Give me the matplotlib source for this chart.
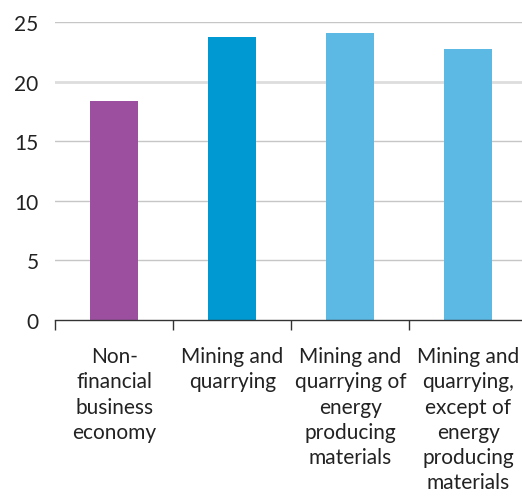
import matplotlib
matplotlib.use("Agg")
import matplotlib.pyplot as plt
import numpy as np

categories = [
    "Non-\nfinancial\nbusiness\neconomy",
    "Mining and\nquarrying",
    "Mining and\nquarrying of\nenergy\nproducing\nmaterials",
    "Mining and\nquarrying,\nexcept of\nenergy\nproducing\nmaterials",
]
values = [18.4, 23.8, 24.1, 22.8]
colors = ["#9b4f9e", "#0199d2", "#5bb9e3", "#5bb9e3"]
yticks = [0, 5, 10, 15, 20, 25]

plt.rcParams["font.family"] = ["Lato", "DejaVu Sans"]

fig = plt.figure(figsize=(5.22, 5.02), dpi=100)
W, H = 522.0, 502.0
x0, x1 = 55.3, 527.3
y0, y1 = 320.7, 23.4
ax = fig.add_axes([x0 / W, 1 - y0 / H, (x1 - x0) / W, (y0 - y1) / H])

x = np.arange(len(values))
ax.bar(x, values, width=0.41, color=colors, zorder=3)

ax.set_xlim(-0.5, 3.5)
ax.set_ylim(0, 25)

for t in yticks[1:]:
    lw, c = (2.0, "#dddddd") if t == 20 else (1.0, "#c6c6c6")
    ax.axhline(t, color=c, linewidth=lw, zorder=1)

for s in ["top", "right", "left"]:
    ax.spines[s].set_visible(False)
ax.spines["bottom"].set_color("#333333")
ax.spines["bottom"].set_linewidth(1.0)
ax.spines["bottom"].set_zorder(4)

ax.set_yticks(yticks)
ax.set_yticklabels([str(t) for t in yticks], fontsize=15, color="#222222")
ax.tick_params(axis="y", length=0, pad=12)

ax.set_xticks(x)
ax.set_xticklabels(categories, fontsize=15, color="#222222", linespacing=1.33)
ax.tick_params(axis="x", which="major", length=0, pad=19)
ax.set_xticks(np.arange(-0.5, 3.6, 1.0), minor=True)
ax.tick_params(axis="x", which="minor", length=7, width=1, color="#333333", direction="out")

fig.savefig("out.png", dpi=100)
